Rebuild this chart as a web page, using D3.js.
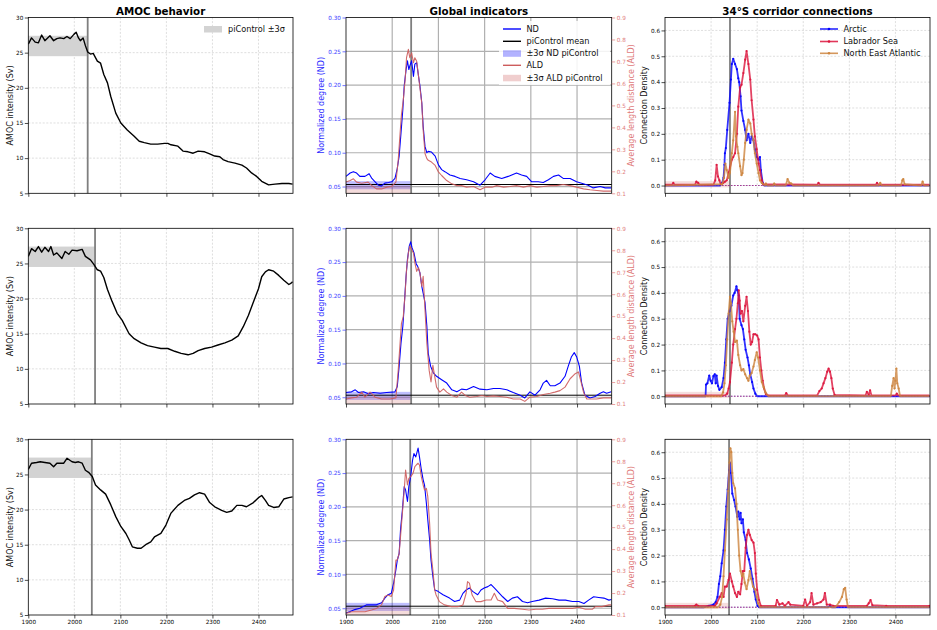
<!DOCTYPE html>
<html><head><meta charset="utf-8">
<script src="https://cdn.jsdelivr.net/npm/d3@7"></script>
<style>body{margin:0;background:#fff}svg{display:block;font-family:'DejaVu Sans',sans-serif}</style>
</head><body><svg id="c" width="937" height="630"></svg>
<script>
// ---------------- DATA ----------------
const years = [1900, 2000, 2100, 2200, 2300, 2400];
const titles = ["AMOC behavior", "Global indicators", "34°S corridor connections"];
const amocTicks = [5, 10, 15, 20, 25, 30];
const ndTicks = [0.05, 0.10, 0.15, 0.20, 0.25, 0.30];
const aldTicks = [0.1, 0.2, 0.3, 0.4, 0.5, 0.6, 0.7, 0.8, 0.9];
const cdTicks = [0.0, 0.1, 0.2, 0.3, 0.4, 0.5, 0.6];
const amocVline = [2029, 2045, 2038];
const netVline = [2041, 2041, 2039];
const amocBand = [24.5, 27.4];
const ndBand = [0.046, 0.058];
const aldBand = [0.10, 0.135];
const ndMean = 0.053;
const cdBand = [-0.007, 0.017];

const amoc1 = [[1900,26.2],[1907,27.1],[1915,26.5],[1922,26.4],[1929,27.5],[1936,26.7],[1947,27.4],[1955,26.7],[1962,27.0],[1969,27.1],[1977,27.0],[1984,27.3],[1991,27.0],[1999,27.6],[2004,27.9],[2009,27.1],[2013,26.7],[2019,27.1],[2024,26.0],[2029,25.1],[2035,24.8],[2041,24.9],[2050,23.8],[2057,23.5],[2064,21.9],[2072,20.7],[2079,18.8],[2090,16.4],[2101,15.0],[2115,14.0],[2130,13.1],[2141,12.4],[2152,12.2],[2166,12.0],[2181,12.0],[2196,12.1],[2203,12.1],[2210,11.9],[2225,11.7],[2236,11.0],[2247,10.9],[2258,10.7],[2269,11.0],[2283,10.9],[2294,10.6],[2305,10.3],[2316,10.2],[2323,9.8],[2334,9.5],[2349,9.3],[2364,9.0],[2374,8.6],[2385,7.9],[2396,7.4],[2407,6.7],[2422,6.2],[2436,6.3],[2451,6.4],[2466,6.4],[2474,6.3]];
const amoc2 = [[1900,26.0],[1907,27.1],[1915,26.7],[1922,27.4],[1929,26.6],[1936,27.3],[1944,26.7],[1949,27.4],[1955,26.2],[1962,26.5],[1973,25.7],[1980,26.7],[1988,26.3],[1995,26.9],[2006,26.8],[2017,27.0],[2024,26.0],[2035,25.5],[2042,24.9],[2050,24.1],[2057,23.9],[2064,23.0],[2072,21.3],[2082,19.6],[2093,17.9],[2104,16.9],[2119,15.0],[2130,14.3],[2145,13.7],[2159,13.3],[2174,13.1],[2188,12.9],[2203,12.9],[2218,12.5],[2232,12.2],[2247,12.0],[2258,12.2],[2269,12.6],[2283,12.9],[2298,13.1],[2312,13.4],[2327,13.7],[2342,14.1],[2356,14.7],[2367,16.0],[2378,17.6],[2389,19.5],[2400,21.4],[2407,23.1],[2415,23.8],[2422,24.1],[2433,23.9],[2444,23.3],[2455,22.6],[2466,22.0],[2471,22.2],[2474,22.4]];
const amoc3 = [[1900,25.7],[1907,26.6],[1918,26.7],[1926,26.8],[1936,26.7],[1947,26.6],[1955,26.1],[1962,26.6],[1977,26.6],[1984,27.3],[1995,26.8],[2002,26.7],[2009,26.8],[2017,26.6],[2024,25.6],[2031,25.3],[2039,24.7],[2046,23.5],[2057,22.8],[2068,22.2],[2079,20.7],[2090,19.0],[2101,17.6],[2112,16.6],[2119,15.7],[2126,14.7],[2137,14.5],[2145,14.5],[2155,15.0],[2166,15.4],[2174,16.1],[2188,16.6],[2199,17.8],[2210,19.5],[2225,20.6],[2239,21.3],[2250,21.6],[2261,22.1],[2272,22.4],[2283,22.2],[2294,21.0],[2305,20.4],[2320,19.9],[2331,19.6],[2342,19.8],[2353,20.6],[2364,20.6],[2374,20.4],[2389,21.0],[2400,21.7],[2407,22.0],[2415,21.3],[2422,20.6],[2433,20.3],[2444,20.4],[2455,21.5],[2466,21.7],[2474,21.8]];

const nd1 = [[1900,0.065],[1909,0.070],[1916,0.072],[1923,0.070],[1930,0.065],[1941,0.065],[1950,0.069],[1956,0.062],[1963,0.057],[1970,0.052],[1977,0.051],[1984,0.055],[1992,0.056],[1999,0.057],[2006,0.062],[2011,0.077],[2015,0.095],[2019,0.129],[2023,0.164],[2026,0.199],[2030,0.223],[2033,0.236],[2036,0.223],[2038,0.228],[2042,0.236],[2046,0.213],[2049,0.231],[2053,0.233],[2057,0.213],[2060,0.199],[2064,0.174],[2067,0.139],[2071,0.109],[2075,0.100],[2078,0.102],[2085,0.101],[2093,0.095],[2100,0.082],[2107,0.075],[2114,0.072],[2125,0.067],[2136,0.065],[2147,0.062],[2161,0.060],[2176,0.057],[2190,0.052],[2201,0.060],[2212,0.070],[2222,0.065],[2237,0.062],[2251,0.065],[2269,0.070],[2280,0.067],[2291,0.065],[2302,0.057],[2316,0.057],[2327,0.056],[2338,0.060],[2349,0.065],[2360,0.067],[2370,0.062],[2385,0.062],[2399,0.057],[2410,0.055],[2424,0.052],[2435,0.048],[2450,0.050],[2461,0.048],[2474,0.048]];
const ald1 = [[1900,0.151],[1909,0.158],[1916,0.166],[1923,0.151],[1934,0.146],[1948,0.151],[1956,0.135],[1966,0.120],[1977,0.120],[1988,0.128],[1999,0.131],[2008,0.151],[2013,0.250],[2017,0.372],[2020,0.457],[2024,0.525],[2028,0.617],[2031,0.717],[2035,0.755],[2038,0.717],[2042,0.739],[2046,0.694],[2049,0.717],[2053,0.701],[2057,0.632],[2060,0.579],[2064,0.510],[2067,0.388],[2071,0.281],[2075,0.258],[2078,0.250],[2085,0.242],[2093,0.227],[2100,0.197],[2107,0.181],[2118,0.158],[2129,0.143],[2140,0.135],[2150,0.135],[2161,0.128],[2176,0.131],[2190,0.116],[2201,0.128],[2216,0.128],[2226,0.135],[2241,0.128],[2255,0.131],[2269,0.135],[2284,0.128],[2298,0.135],[2313,0.128],[2327,0.131],[2342,0.135],[2356,0.135],[2370,0.140],[2385,0.135],[2399,0.128],[2414,0.120],[2428,0.116],[2443,0.113],[2457,0.110],[2474,0.110]];
const nd2 = [[1900,0.057],[1912,0.058],[1920,0.061],[1927,0.057],[1938,0.058],[1948,0.055],[1959,0.057],[1974,0.056],[1988,0.057],[2006,0.058],[2011,0.066],[2015,0.096],[2019,0.130],[2023,0.155],[2026,0.185],[2030,0.229],[2033,0.254],[2037,0.274],[2040,0.280],[2043,0.271],[2047,0.264],[2052,0.247],[2055,0.244],[2060,0.234],[2064,0.214],[2067,0.204],[2071,0.190],[2075,0.155],[2078,0.115],[2083,0.096],[2089,0.086],[2096,0.081],[2107,0.076],[2118,0.071],[2129,0.061],[2140,0.058],[2150,0.062],[2161,0.061],[2176,0.066],[2190,0.062],[2205,0.061],[2219,0.063],[2233,0.063],[2248,0.061],[2262,0.057],[2277,0.053],[2287,0.049],[2298,0.058],[2309,0.053],[2320,0.061],[2327,0.071],[2334,0.075],[2342,0.067],[2352,0.067],[2363,0.071],[2374,0.081],[2381,0.096],[2388,0.110],[2394,0.116],[2399,0.110],[2405,0.096],[2410,0.071],[2417,0.053],[2428,0.049],[2439,0.051],[2450,0.056],[2457,0.058],[2464,0.056],[2474,0.058]];
const ald2 = [[1900,0.123],[1912,0.128],[1923,0.131],[1934,0.154],[1941,0.131],[1952,0.154],[1963,0.131],[1977,0.123],[1995,0.123],[2008,0.128],[2013,0.253],[2017,0.376],[2020,0.467],[2024,0.498],[2028,0.605],[2031,0.712],[2035,0.788],[2038,0.819],[2042,0.804],[2046,0.788],[2049,0.743],[2053,0.704],[2057,0.720],[2060,0.697],[2064,0.635],[2067,0.681],[2071,0.528],[2075,0.376],[2080,0.253],[2084,0.200],[2088,0.276],[2091,0.238],[2096,0.177],[2103,0.154],[2111,0.169],[2118,0.154],[2129,0.139],[2140,0.131],[2150,0.154],[2158,0.139],[2168,0.131],[2183,0.134],[2194,0.139],[2205,0.134],[2219,0.137],[2233,0.134],[2248,0.131],[2262,0.123],[2277,0.123],[2287,0.112],[2298,0.131],[2313,0.134],[2327,0.143],[2342,0.149],[2352,0.154],[2363,0.161],[2374,0.177],[2385,0.215],[2396,0.238],[2403,0.246],[2408,0.207],[2414,0.154],[2421,0.123],[2432,0.123],[2442,0.123],[2457,0.128],[2474,0.128]];
const nd3 = [[1900,0.043],[1909,0.045],[1919,0.048],[1930,0.050],[1945,0.055],[1955,0.055],[1966,0.055],[1977,0.058],[1984,0.065],[1991,0.070],[1998,0.072],[2003,0.087],[2008,0.107],[2011,0.121],[2015,0.131],[2018,0.166],[2022,0.195],[2026,0.230],[2029,0.225],[2033,0.208],[2036,0.230],[2040,0.245],[2044,0.269],[2047,0.279],[2051,0.274],[2056,0.287],[2059,0.274],[2063,0.255],[2067,0.240],[2070,0.232],[2074,0.205],[2077,0.181],[2081,0.151],[2084,0.121],[2088,0.097],[2092,0.077],[2099,0.075],[2110,0.070],[2124,0.065],[2135,0.060],[2146,0.062],[2153,0.072],[2160,0.077],[2167,0.080],[2174,0.075],[2185,0.070],[2192,0.077],[2199,0.080],[2207,0.082],[2214,0.085],[2221,0.080],[2228,0.075],[2239,0.067],[2250,0.060],[2260,0.065],[2271,0.067],[2282,0.060],[2293,0.058],[2303,0.060],[2318,0.062],[2332,0.065],[2347,0.064],[2361,0.062],[2375,0.062],[2390,0.060],[2404,0.060],[2415,0.057],[2425,0.062],[2436,0.067],[2447,0.066],[2458,0.065],[2469,0.062],[2474,0.063]];
const ald3 = [[1900,0.108],[1912,0.115],[1927,0.115],[1941,0.115],[1955,0.123],[1966,0.130],[1977,0.146],[1984,0.184],[1991,0.191],[1998,0.184],[2003,0.214],[2008,0.350],[2011,0.350],[2015,0.381],[2018,0.457],[2022,0.563],[2026,0.669],[2029,0.760],[2033,0.692],[2036,0.722],[2040,0.730],[2045,0.745],[2049,0.776],[2052,0.783],[2056,0.791],[2059,0.783],[2063,0.730],[2067,0.692],[2070,0.669],[2074,0.677],[2077,0.639],[2081,0.517],[2084,0.381],[2088,0.305],[2092,0.214],[2095,0.191],[2102,0.161],[2113,0.146],[2128,0.138],[2142,0.138],[2153,0.146],[2160,0.199],[2163,0.252],[2167,0.245],[2173,0.191],[2181,0.161],[2192,0.161],[2203,0.168],[2214,0.168],[2221,0.199],[2228,0.168],[2239,0.161],[2250,0.130],[2264,0.130],[2282,0.126],[2296,0.123],[2311,0.126],[2325,0.126],[2339,0.130],[2357,0.130],[2375,0.130],[2390,0.130],[2404,0.135],[2418,0.126],[2433,0.126],[2440,0.138],[2454,0.138],[2469,0.146],[2474,0.146]];

const regions = ["Arctic", "Labrador Sea", "North East Atlantic"];
const arctic1 = [[1900,0],[2020,0],[2024,0.01],[2027,0.03],[2029,0.08],[2030,0.125],[2032,0.145],[2035,0.215],[2040,0.32],[2043,0.41],[2045,0.47],[2048,0.49],[2052,0.47],[2056,0.45],[2059,0.415],[2061,0.40],[2064,0.345],[2066,0.29],[2070,0.25],[2074,0.215],[2077,0.175],[2081,0.20],[2085,0.165],[2088,0.19],[2092,0.175],[2095,0.14],[2099,0.11],[2103,0.10],[2106,0.11],[2108,0.06],[2112,0.01],[2115,0],[2474,0]];
const labrador1 = [[1900,0.003],[1915,0.003],[1918,0.01],[1921,0.003],[1965,0.003],[1968,0.015],[1972,0.01],[1975,0.003],[2005,0.003],[2009,0.02],[2012,0.08],[2015,0.035],[2018,0.02],[2021,0.005],[2026,0.01],[2030,0.015],[2034,0.02],[2038,0.05],[2041,0.07],[2045,0.10],[2048,0.11],[2052,0.125],[2056,0.20],[2059,0.305],[2063,0.38],[2066,0.39],[2070,0.435],[2074,0.487],[2077,0.52],[2081,0.47],[2085,0.41],[2088,0.33],[2092,0.255],[2095,0.19],[2099,0.14],[2103,0.085],[2106,0.06],[2110,0.02],[2113,0.005],[2230,0.003],[2233,0.01],[2237,0.003],[2357,0.003],[2360,0.01],[2364,0.003],[2474,0.003]];
const nea1 = [[1900,0],[2024,0.005],[2028,0.03],[2031,0.085],[2034,0.06],[2038,0.03],[2041,0.05],[2045,0.125],[2048,0.175],[2052,0.285],[2054,0.19],[2057,0.15],[2059,0.125],[2063,0.075],[2066,0.04],[2068,0.048],[2071,0.10],[2074,0.165],[2077,0.215],[2081,0.255],[2085,0.24],[2088,0.20],[2092,0.175],[2095,0.125],[2099,0.085],[2103,0.048],[2106,0.02],[2110,0.01],[2117,0],[2119,0.008],[2122,0],[2135,0],[2137,0.008],[2140,0],[2162,0],[2166,0.025],[2170,0.01],[2174,0.008],[2178,0],[2364,0],[2367,0.01],[2370,0],[2412,0],[2415,0.02],[2417,0.025],[2420,0.005],[2456,0],[2459,0.015],[2462,0],[2474,0]];
const arctic2 = [[1900,0],[1988,0],[1989,0.045],[1992,0.05],[1996,0.08],[1999,0.06],[2002,0.05],[2005,0.078],[2008,0.085],[2010,0.05],[2012,0.08],[2015,0.04],[2018,0.025],[2023,0.035],[2027,0.07],[2030,0.13],[2033,0.22],[2036,0.30],[2040,0.33],[2044,0.35],[2048,0.39],[2051,0.40],[2055,0.425],[2057,0.41],[2060,0.39],[2062,0.30],[2066,0.275],[2069,0.26],[2072,0.22],[2075,0.18],[2079,0.15],[2082,0.12],[2085,0.085],[2089,0.055],[2092,0.03],[2096,0.01],[2100,0],[2474,0]];
const labrador2 = [[1900,0.003],[2030,0.003],[2035,0.01],[2038,0.03],[2041,0.055],[2045,0.13],[2048,0.2],[2052,0.26],[2055,0.3],[2058,0.36],[2060,0.41],[2062,0.37],[2064,0.32],[2067,0.33],[2070,0.29],[2074,0.35],[2077,0.385],[2080,0.33],[2083,0.25],[2086,0.20],[2089,0.21],[2092,0.24],[2096,0.24],[2100,0.235],[2103,0.22],[2106,0.15],[2109,0.1],[2112,0.06],[2115,0.03],[2119,0.008],[2125,0.003],[2160,0.003],[2163,0.012],[2167,0.003],[2230,0.003],[2235,0.02],[2240,0.03],[2244,0.05],[2248,0.07],[2252,0.095],[2255,0.107],[2258,0.095],[2261,0.07],[2264,0.03],[2268,0.005],[2335,0.003],[2338,0.017],[2342,0.005],[2345,0.023],[2348,0.003],[2400,0.003],[2403,0.01],[2406,0.003],[2474,0.003]];
const nea2 = [[1900,0],[2022,0],[2026,0.015],[2029,0.05],[2032,0.12],[2035,0.22],[2038,0.32],[2041,0.385],[2043,0.36],[2046,0.29],[2049,0.25],[2052,0.21],[2056,0.215],[2059,0.16],[2063,0.12],[2066,0.10],[2070,0.105],[2074,0.085],[2078,0.07],[2081,0.06],[2084,0.08],[2088,0.09],[2092,0.115],[2095,0.14],[2099,0.17],[2102,0.15],[2106,0.1],[2110,0.055],[2114,0.035],[2118,0.015],[2124,0],[2390,0],[2393,0.04],[2396,0.07],[2398,0.03],[2400,0.06],[2402,0.107],[2404,0.05],[2407,0.03],[2410,0],[2474,0]];
const arctic3 = [[1900,0],[1985,0],[1995,0.005],[2005,0.01],[2010,0.02],[2014,0.04],[2017,0.09],[2020,0.12],[2023,0.17],[2027,0.22],[2030,0.30],[2033,0.39],[2036,0.455],[2039,0.53],[2041,0.56],[2043,0.52],[2046,0.44],[2050,0.415],[2053,0.39],[2057,0.35],[2059,0.37],[2062,0.34],[2064,0.365],[2066,0.325],[2069,0.34],[2071,0.29],[2075,0.26],[2078,0.21],[2082,0.185],[2086,0.15],[2090,0.11],[2094,0.06],[2097,0.03],[2101,0.005],[2104,0],[2254,0],[2258,0.006],[2262,0],[2474,0]];
const labrador3 = [[1900,0.005],[1965,0.005],[1968,0.01],[1972,0.005],[2008,0.005],[2012,0.015],[2019,0.04],[2023,0.055],[2027,0.04],[2030,0.08],[2034,0.08],[2038,0.106],[2041,0.13],[2045,0.1],[2048,0.08],[2052,0.055],[2056,0.04],[2059,0.06],[2063,0.05],[2066,0.09],[2069,0.14],[2072,0.14],[2075,0.23],[2078,0.28],[2081,0.30],[2084,0.28],[2088,0.26],[2092,0.25],[2095,0.21],[2097,0.13],[2100,0.067],[2104,0.028],[2108,0.005],[2140,0.005],[2143,0.028],[2148,0.01],[2155,0.015],[2160,0.005],[2168,0.02],[2172,0.01],[2200,0.005],[2204,0.03],[2208,0.005],[2215,0.02],[2218,0.055],[2222,0.01],[2230,0.015],[2238,0.02],[2244,0.03],[2247,0.055],[2251,0.01],[2258,0.01],[2265,0.005],[2338,0.005],[2342,0.015],[2346,0.028],[2350,0.008],[2380,0.005],[2474,0.005]];
const nea3 = [[1900,0],[2015,0],[2020,0.01],[2024,0.04],[2027,0.12],[2030,0.22],[2034,0.34],[2037,0.45],[2040,0.56],[2042,0.615],[2044,0.60],[2046,0.52],[2048,0.48],[2052,0.46],[2055,0.40],[2058,0.30],[2061,0.20],[2064,0.14],[2067,0.12],[2070,0.13],[2073,0.095],[2077,0.07],[2081,0.105],[2084,0.14],[2087,0.11],[2091,0.08],[2095,0.07],[2099,0.04],[2102,0.015],[2106,0],[2270,0],[2278,0.02],[2284,0.04],[2288,0.07],[2291,0.075],[2294,0.03],[2297,0],[2474,0]];

const amocSeries = [amoc1, amoc2, amoc3];
const ndSeries = [nd1, nd2, nd3];
const aldSeries = [ald1, ald2, ald3];
const cdSeries = [[arctic1, labrador1, nea1], [arctic2, labrador2, nea2], [arctic3, labrador3, nea3]];

// ---------------- LAYOUT / STYLE ----------------
const svg = d3.select('#c');
const cols = [[28.3, 293], [346, 611.7], [665, 930]];
const rows = [[17.5, 193.3], [228.3, 404], [439.3, 615]];
const xDomain = [1900, 2475];
const TFS = 5.7;
const LFS = 8.2;
const YFS = 8.0;
const regionColors = ['#0000ff', '#dc143c', '#cd853f'];
const ndColor = '#0000ff', aldColor = '#cd5c5c';
const aldText = '#e07a7a';
let clipId = 0;

function clip(x0, x1, y0, y1) {
  const id = 'cl' + (clipId++);
  svg.append('clipPath').attr('id', id).append('rect')
    .attr('x', x0).attr('y', y0).attr('width', x1 - x0).attr('height', y1 - y0);
  return 'url(#' + id + ')';
}
function frame(x0, x1, y0, y1) {
  svg.append('rect').attr('x', x0).attr('y', y0).attr('width', x1 - x0).attr('height', y1 - y0)
    .attr('fill', 'none').attr('stroke', '#000').attr('stroke-width', 0.8);
}
function styleAxis(g, color) {
  g.select('.domain').remove();
  g.selectAll('line').attr('stroke', color).attr('stroke-width', 0.7);
  g.selectAll('text').attr('fill', color).attr('font-size', TFS).attr('font-family', 'DejaVu Sans');
}
function xAxis(x, y1, showLabels) {
  const ax = d3.axisBottom(x).tickValues(years).tickSize(3.5).tickPadding(1.5)
    .tickFormat(showLabels ? d3.format('d') : () => '');
  const g = svg.append('g').attr('transform', `translate(0,${y1})`).call(ax);
  styleAxis(g, '#000');
}
function grid(x, y, yt, x0, x1, y0, y1, solid) {
  const g = svg.append('g');
  const st = solid ? { c: '#b0b0b0', w: 1.2, d: null } : { c: '#c8c8c8', w: 0.6, d: '2,1.6' };
  years.filter(v => v > 1900).forEach(v => {
    g.append('line').attr('x1', x(v)).attr('x2', x(v)).attr('y1', y0).attr('y2', y1)
      .attr('stroke', st.c).attr('stroke-width', st.w).attr('stroke-dasharray', st.d);
  });
  yt.forEach(v => {
    g.append('line').attr('x1', x0).attr('x2', x1).attr('y1', y(v)).attr('y2', y(v))
      .attr('stroke', st.c).attr('stroke-width', st.w).attr('stroke-dasharray', st.d);
  });
}
function vline(x, yr, y0, y1) {
  svg.append('line').attr('x1', x(yr)).attr('x2', x(yr)).attr('y1', y0).attr('y2', y1)
    .attr('stroke', '#7f7f7f').attr('stroke-width', 1.8);
}
function ylabel(text, cx, cy, color, fs) {
  svg.append('text').attr('transform', `translate(${cx},${cy}) rotate(-90)`)
    .attr('text-anchor', 'middle').attr('dominant-baseline', 'central')
    .attr('font-size', fs).attr('fill', color).text(text);
}

// ---------------- PANELS ----------------
rows.forEach(([y0, y1], r) => {
  const bottom = r === 2;
  const cy = (y0 + y1) / 2;

  // ---- AMOC ----
  {
    const [x0, x1] = cols[0];
    const x = d3.scaleLinear(xDomain, [x0, x1]);
    const y = d3.scaleLinear([5, 30], [y1, y0]);
    grid(x, y, amocTicks.filter(v => v > 5 && v < 30), x0, x1, y0, y1, false);
    svg.append('rect').attr('x', x(1900)).attr('width', x(amocVline[r]) - x(1900))
      .attr('y', y(amocBand[1])).attr('height', y(amocBand[0]) - y(amocBand[1])).attr('fill', '#d3d3d3');
    vline(x, amocVline[r], y0, y1);
    svg.append('path').datum(amocSeries[r]).attr('clip-path', clip(x0, x1, y0, y1))
      .attr('d', d3.line().x(d => x(d[0])).y(d => y(d[1])))
      .attr('fill', 'none').attr('stroke', '#000').attr('stroke-width', 1.4).attr('stroke-linejoin', 'round');
    frame(x0, x1, y0, y1);
    styleAxis(svg.append('g').attr('transform', `translate(${x0},0)`)
      .call(d3.axisLeft(y).tickValues(amocTicks).tickSize(3.5).tickPadding(1.5)), '#000');
    xAxis(x, y1, bottom);
    ylabel('AMOC intensity (Sv)', 10.5, cy, '#111', YFS);
    if (r === 0) {
      svg.append('rect').attr('x', 204).attr('y', 26).attr('width', 18).attr('height', 6.5).attr('fill', '#d3d3d3');
      svg.append('text').attr('x', 228).attr('y', 32.3).attr('font-size', LFS).attr('fill', '#111').text('piControl ±3σ');
    }
  }

  // ---- Global indicators ----
  {
    const [x0, x1] = cols[1];
    const x = d3.scaleLinear(xDomain, [x0, x1]);
    const yL = d3.scaleLinear([0.04, 0.30], [y1, y0]);
    const yR = d3.scaleLinear([0.1, 0.9], [y1, y0]);
    grid(x, yL, ndTicks.filter(v => v < 0.3), x0, x1, y0, y1, true);
    svg.append('rect').attr('x', x(1900)).attr('width', x(netVline[r]) - x(1900))
      .attr('y', yL(ndBand[1])).attr('height', yL(ndBand[0]) - yL(ndBand[1]))
      .attr('fill', ndColor).attr('fill-opacity', 0.25);
    svg.append('rect').attr('x', x(1900)).attr('width', x(netVline[r]) - x(1900))
      .attr('y', yR(aldBand[1])).attr('height', yR(aldBand[0]) - yR(aldBand[1]))
      .attr('fill', aldColor).attr('fill-opacity', 0.22);
    vline(x, netVline[r], y0, y1);
    svg.append('line').attr('x1', x0).attr('x2', x1).attr('y1', yL(ndMean)).attr('y2', yL(ndMean))
      .attr('stroke', '#000').attr('stroke-width', 1);
    const cp = clip(x0, x1, y0, y1);
    svg.append('path').datum(ndSeries[r]).attr('clip-path', cp)
      .attr('d', d3.line().x(d => x(d[0])).y(d => yL(d[1])))
      .attr('fill', 'none').attr('stroke', ndColor).attr('stroke-width', 1.1).attr('stroke-linejoin', 'round');
    svg.append('path').datum(aldSeries[r]).attr('clip-path', cp)
      .attr('d', d3.line().x(d => x(d[0])).y(d => yR(d[1])))
      .attr('fill', 'none').attr('stroke', aldColor).attr('stroke-width', 1.1).attr('stroke-opacity', 0.9).attr('stroke-linejoin', 'round');
    frame(x0, x1, y0, y1);
    styleAxis(svg.append('g').attr('transform', `translate(${x0},0)`)
      .call(d3.axisLeft(yL).tickValues(ndTicks).tickFormat(d3.format('.2f')).tickSize(3.5).tickPadding(1.5)), '#3b3bff');
    styleAxis(svg.append('g').attr('transform', `translate(${x1},0)`)
      .call(d3.axisRight(yR).tickValues(aldTicks).tickFormat(d3.format('.1f')).tickSize(3.5).tickPadding(1.5)), aldText);
    xAxis(x, y1, bottom);
    ylabel('Normalized degree (ND)', 321.5, cy, '#2b2bff', YFS);
    ylabel('Average length distance (ALD)', 631.5, cy, aldText, YFS);
    if (r === 0) {
      const lg = svg.append('g');
      lg.append('rect').attr('x', 499).attr('y', 21).attr('width', 111).attr('height', 64)
        .attr('fill', '#fff').attr('fill-opacity', 0.85);
      const ents = [
        { t: 'ND', k: 'line', c: ndColor },
        { t: 'piControl mean', k: 'line', c: '#000' },
        { t: '±3σ ND piControl', k: 'patch', c: ndColor },
        { t: 'ALD', k: 'line', c: aldColor },
        { t: '±3σ ALD piControl', k: 'patch', c: aldColor }
      ];
      const ys = [29, 41.3, 53.3, 65.3, 77.8];
      ents.forEach((e, i) => {
        if (e.k === 'line') lg.append('line').attr('x1', 503).attr('x2', 521).attr('y1', ys[i]).attr('y2', ys[i])
          .attr('stroke', e.c).attr('stroke-width', 1.4);
        else lg.append('rect').attr('x', 503).attr('y', ys[i] - 3).attr('width', 18).attr('height', 6.5)
          .attr('fill', e.c).attr('fill-opacity', 0.3);
        lg.append('text').attr('x', 526.5).attr('y', ys[i] + 2.9).attr('font-size', LFS).attr('fill', '#111').text(e.t);
      });
    }
  }

  // ---- Corridor connections ----
  {
    const [x0, x1] = cols[2];
    const x = d3.scaleLinear(xDomain, [x0, x1]);
    const y = d3.scaleLinear([-0.03, 0.65], [y1, y0]);
    grid(x, y, cdTicks, x0, x1, y0, y1, false);
    svg.append('rect').attr('x', x(1900)).attr('width', x(netVline[r]) - x(1900))
      .attr('y', y(cdBand[1])).attr('height', y(cdBand[0]) - y(cdBand[1]))
      .attr('fill', aldColor).attr('fill-opacity', 0.2);
    vline(x, netVline[r], y0, y1);
    const cp = clip(x0, x1, y0, y1);
    [0, 1].forEach(k => {
      svg.append('line').attr('x1', x0).attr('x2', x1).attr('y1', y(0)).attr('y2', y(0))
        .attr('stroke', regionColors[k]).attr('stroke-width', 0.8).attr('stroke-dasharray', '1.5,1.5').attr('opacity', 0.7);
    });
    cdSeries[r].forEach((s, k) => {
      const g = svg.append('g').attr('clip-path', cp);
      g.append('path').datum(s)
        .attr('d', d3.line().x(d => x(d[0])).y(d => y(d[1])))
        .attr('fill', 'none').attr('stroke', regionColors[k]).attr('stroke-width', 1.8)
        .attr('stroke-opacity', 0.8).attr('stroke-linejoin', 'round');
      g.selectAll('circle').data(s.filter(d => d[1] > 0.004)).join('circle')
        .attr('cx', d => x(d[0])).attr('cy', d => y(d[1])).attr('r', 1.1)
        .attr('fill', regionColors[k]).attr('opacity', 0.9);
    });
    frame(x0, x1, y0, y1);
    styleAxis(svg.append('g').attr('transform', `translate(${x0},0)`)
      .call(d3.axisLeft(y).tickValues(cdTicks).tickFormat(d3.format('.1f')).tickSize(3.5).tickPadding(1.5)), '#000');
    xAxis(x, y1, bottom);
    ylabel('Connection Density', 644.5, cy, '#111', YFS);
    if (r === 0) {
      const ys = [29, 41.5, 53.3];
      regions.forEach((t, i) => {
        svg.append('line').attr('x1', 820).attr('x2', 838).attr('y1', ys[i]).attr('y2', ys[i])
          .attr('stroke', regionColors[i]).attr('stroke-width', 1.6).attr('stroke-opacity', 0.85);
        svg.append('circle').attr('cx', 829).attr('cy', ys[i]).attr('r', 1.3).attr('fill', regionColors[i]);
        svg.append('text').attr('x', 843.5).attr('y', ys[i] + 2.9).attr('font-size', LFS).attr('fill', '#111').text(t);
      });
    }
  }
});

// titles
titles.forEach((t, i) => {
  svg.append('text').attr('x', (cols[i][0] + cols[i][1]) / 2).attr('y', 14.5)
    .attr('text-anchor', 'middle').attr('font-size', 10.3).attr('font-weight', 'bold').attr('fill', '#000').text(t);
});
</script></body></html>
